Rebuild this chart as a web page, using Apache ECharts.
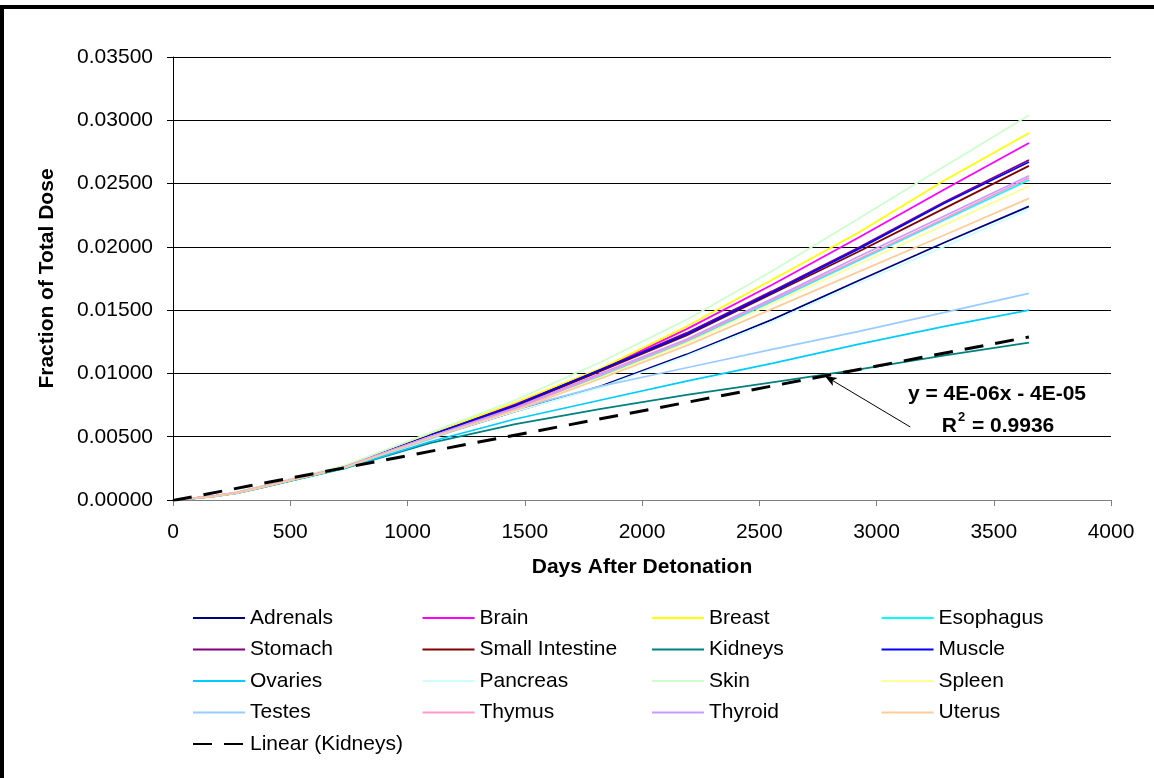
<!DOCTYPE html>
<html>
<head>
<meta charset="utf-8">
<title>Fraction of Total Dose by Organ</title>
<script src="https://cdn.jsdelivr.net/npm/echarts@6/dist/echarts.min.js"></script>
<style>
  html, body { margin: 0; padding: 0; background: #fff; }
  #chart { width: 1154px; height: 778px; }
</style>
</head>
<body>
<div id="chart"></div>
<script>
// Days after detonation at which the cumulative dose fraction is tabulated
const days = [0, 91, 182, 273, 365, 730, 1095, 1460, 1825, 2190, 2555, 2920, 3285, 3650];

// Cumulative fraction of total dose, per organ
const adrenals       = [0, 0.00014, 0.00031, 0.00056, 0.00095, 0.00255, 0.0049, 0.0070, 0.0090, 0.0115, 0.01425, 0.0173, 0.0203, 0.0232];
const brain          = [0, 0.00015, 0.00033, 0.00060, 0.00101, 0.00265, 0.0052, 0.0076, 0.0103, 0.0135, 0.0170, 0.0207, 0.0245, 0.0282];
const breast         = [0, 0.00015, 0.00033, 0.00061, 0.00102, 0.00268, 0.0052, 0.0077, 0.0104, 0.0137, 0.0174, 0.0211, 0.0252, 0.0290];
const esophagus      = [0, 0.00014, 0.00032, 0.00058, 0.00098, 0.00260, 0.0050, 0.0072, 0.0098, 0.0125, 0.0157, 0.0189, 0.0221, 0.02528];
const stomach        = [0, 0.00014, 0.00032, 0.00058, 0.00099, 0.00262, 0.0051, 0.0075, 0.0103, 0.0132, 0.0165, 0.0199, 0.0235, 0.02686];
const smallIntestine = [0, 0.00014, 0.00032, 0.00058, 0.00098, 0.00260, 0.0050, 0.0074, 0.0102, 0.0130, 0.0163, 0.0196, 0.0230, 0.0264];
const kidneys        = [0, 0.00013, 0.00030, 0.00054, 0.00092, 0.00250, 0.0045, 0.0060, 0.0072, 0.0083, 0.0093, 0.0103, 0.0114, 0.01243];
const muscle         = [0, 0.00014, 0.00032, 0.00058, 0.00099, 0.00262, 0.0051, 0.0075, 0.0103, 0.0131, 0.0164, 0.0198, 0.0234, 0.0267];
const ovaries        = [0, 0.00013, 0.00030, 0.00055, 0.00094, 0.00250, 0.0046, 0.0064, 0.0079, 0.0094, 0.0108, 0.0123, 0.0137, 0.0150];
const pancreas       = [0, 0.00014, 0.00031, 0.00056, 0.00095, 0.00255, 0.0049, 0.0070, 0.0089, 0.0114, 0.0141, 0.0171, 0.0200, 0.0230];
const skin           = [0, 0.00016, 0.00034, 0.00062, 0.00104, 0.00270, 0.0053, 0.0079, 0.0109, 0.01425, 0.0181, 0.0222, 0.0263, 0.0304];
const spleen         = [0, 0.00014, 0.00032, 0.00058, 0.00097, 0.00258, 0.0050, 0.0071, 0.0097, 0.0124, 0.0155, 0.0186, 0.0217, 0.0248];
const testes         = [0, 0.00013, 0.00030, 0.00056, 0.00096, 0.00260, 0.0048, 0.0072, 0.0090, 0.01045, 0.0119, 0.0133, 0.0148, 0.01633];
const thymus         = [0, 0.00014, 0.00032, 0.00058, 0.00098, 0.00260, 0.0050, 0.0072, 0.0099, 0.0126, 0.0158, 0.0190, 0.0222, 0.02545];
const thyroid        = [0, 0.00014, 0.00032, 0.00058, 0.00098, 0.00260, 0.0050, 0.0073, 0.0100, 0.0127, 0.0159, 0.0192, 0.0224, 0.02562];
const uterus         = [0, 0.00014, 0.00031, 0.00057, 0.00096, 0.00256, 0.0049, 0.0071, 0.0096, 0.0122, 0.0151, 0.0180, 0.0209, 0.02383];

// Organ names in legend order, paired with their value arrays
const organNames = ['Adrenals', 'Brain', 'Breast', 'Esophagus', 'Stomach', 'Small Intestine', 'Kidneys', 'Muscle',
                    'Ovaries', 'Pancreas', 'Skin', 'Spleen', 'Testes', 'Thymus', 'Thyroid', 'Uterus'];
const organValues = [adrenals, brain, breast, esophagus, stomach, smallIntestine, kidneys, muscle,
                     ovaries, pancreas, skin, spleen, testes, thymus, thyroid, uterus];

// Linear trendline fitted to the kidney curve
const trendName = 'Linear (Kidneys)';
const trendSlope = 3.54e-6;
const trendIntercept = -4e-5;
const trendR2 = 0.9936;

// Axis ticks
const xTicks = { min: 0, max: 4000, step: 500 };
const yTicks = { min: 0, max: 0.035, step: 0.005 };

// ---- styling ----
const palette = ['#000080', '#FF00FF', '#FFFF00', '#00FFFF', '#800080', '#800000', '#008080', '#0000FF',
                 '#00CCFF', '#CCFFFF', '#CCFFCC', '#FFFF99', '#99CCFF', '#FF99CC', '#CC99FF', '#FFCC99'];
const FONT = '"Liberation Sans", Arial, sans-serif';
const TEXT_SIZE = 21;

const trendAt = d => trendSlope * d + trendIntercept;

// Excel-style scientific notation, e.g. 4E-06
function sci(v) {
  const parts = Math.abs(v).toExponential(0).split('e');
  const ex = parseInt(parts[1], 10);
  return parts[0] + 'E' + (ex < 0 ? '-' : '+') + String(Math.abs(ex)).padStart(2, '0');
}
const equationText = 'y = ' + sci(trendSlope) + 'x ' + (trendIntercept < 0 ? '- ' : '+ ') + sci(trendIntercept);

const organSeries = organNames.map((name, i) => ({
  name: name,
  type: 'line',
  data: days.map((d, k) => [d, organValues[i][k]]),
  symbol: 'none',
  smooth: false,
  lineStyle: { width: 1.75, color: palette[i] },
  itemStyle: { color: palette[i] },
  emphasis: { disabled: true },
  z: 3
}));

const firstDay = days[0], lastDay = days[days.length - 1];
const arrowTipDay = 2780;
const trendSeries = {
  name: trendName,
  type: 'line',
  data: [[firstDay, trendAt(firstDay)], [lastDay, trendAt(lastDay)]],
  symbol: 'none',
  lineStyle: { width: 3, color: '#000', type: [19, 12] },
  itemStyle: { color: '#000' },
  emphasis: { disabled: true },
  z: 4,
  markLine: {
    silent: true,
    symbol: ['none', 'arrow'],
    symbolSize: [7, 12],
    label: { show: false },
    lineStyle: { color: '#000', width: 1, type: 'solid' },
    data: [[{ coord: [3144, 0.00577] }, { coord: [arrowTipDay, trendAt(arrowTipDay)] }]]
  }
};

// legend in four equally spaced columns
const legendCols = [[], [], [], []];
organNames.forEach((n, i) => legendCols[i % 4].push(n));
legendCols[0].push(trendName);
const colLeft = [192, 421.5, 651, 880.5];
const legends = legendCols.map((col, c) => ({
  data: col,
  orient: 'vertical',
  left: colLeft[c],
  top: 607,
  padding: 0,
  itemWidth: 52,
  itemHeight: 12,
  itemGap: 9.5,
  selectedMode: false,
  itemStyle: { opacity: 0 },
  textStyle: { fontFamily: FONT, fontSize: TEXT_SIZE, color: '#000', lineHeight: 22 }
}));

const chart = echarts.init(document.getElementById('chart'), null, { renderer: 'canvas' });
chart.setOption({
  animation: false,
  backgroundColor: '#fff',
  grid: { left: 173, right: 43, top: 57, bottom: 278, containLabel: false },
  xAxis: {
    type: 'value',
    min: xTicks.min, max: xTicks.max, interval: xTicks.step,
    name: 'Days After Detonation',
    nameLocation: 'middle',
    nameGap: 57,
    nameTextStyle: { fontFamily: FONT, fontSize: TEXT_SIZE, fontWeight: 'bold', color: '#000' },
    axisLine: { show: true, onZero: false, lineStyle: { color: '#808080', width: 1 } },
    axisTick: { show: true, inside: false, length: 6, lineStyle: { color: '#808080' } },
    axisLabel: { fontFamily: FONT, fontSize: TEXT_SIZE, color: '#000', margin: 22, formatter: v => String(v) },
    splitLine: { show: false }
  },
  yAxis: {
    type: 'value',
    min: yTicks.min, max: yTicks.max, interval: yTicks.step,
    name: 'Fraction of Total Dose',
    nameLocation: 'middle',
    nameGap: 115,
    nameTextStyle: { fontFamily: FONT, fontSize: TEXT_SIZE, fontWeight: 'bold', color: '#000' },
    axisLine: { show: true, lineStyle: { color: '#000', width: 1 } },
    axisTick: { show: true, inside: false, length: 6, lineStyle: { color: '#000' } },
    axisLabel: { fontFamily: FONT, fontSize: TEXT_SIZE, color: '#000', margin: 20, formatter: v => v.toFixed(5) },
    splitLine: { show: true, lineStyle: { color: '#000', width: 1 } }
  },
  legend: legends,
  series: organSeries.concat([trendSeries]),
  graphic: [
    { type: 'rect', shape: { x: 0, y: 5, width: 1154, height: 4 }, style: { fill: '#000' }, z: 100 },
    { type: 'rect', shape: { x: 0, y: 5, width: 4, height: 773 }, style: { fill: '#000' }, z: 100 },
    {
      type: 'text', z: 100,
      style: { text: equationText, x: 997, y: 394, align: 'center', verticalAlign: 'middle',
               font: 'bold ' + TEXT_SIZE + 'px ' + FONT, fill: '#000' }
    },
    {
      type: 'text', z: 100,
      style: {
        x: 998, y: 424, align: 'center', verticalAlign: 'middle',
        text: '{r|R}{s|2}{r| = ' + trendR2.toFixed(4) + '}',
        rich: {
          r: { font: 'bold ' + TEXT_SIZE + 'px ' + FONT, fill: '#000', verticalAlign: 'bottom', lineHeight: 26 },
          s: { font: 'bold 13px ' + FONT, fill: '#000', verticalAlign: 'top', lineHeight: 26, padding: [0, 1, 12, 1] }
        }
      }
    }
  ]
});
</script>
</body>
</html>
